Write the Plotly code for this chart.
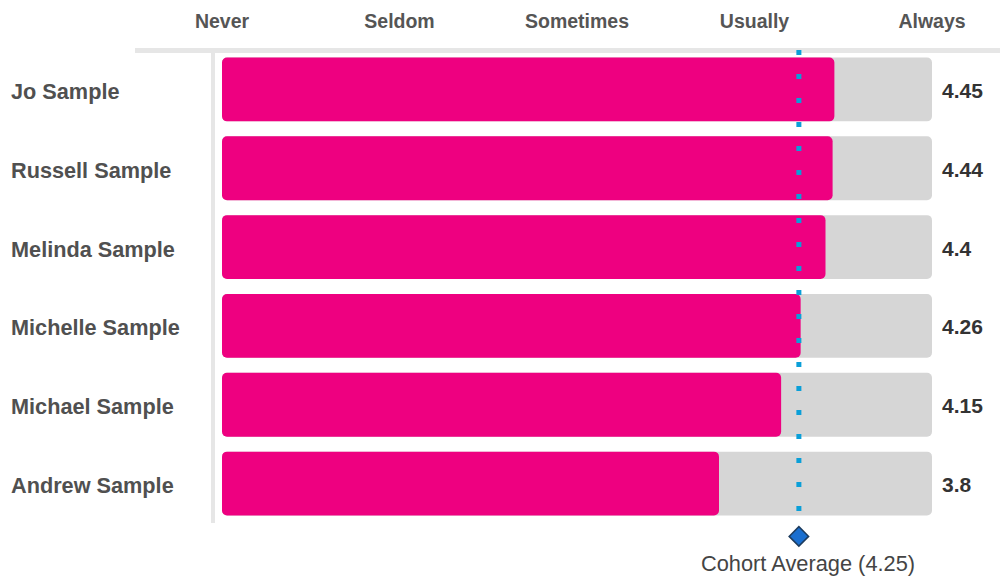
import plotly.graph_objects as go

names = ["Jo Sample", "Russell Sample", "Melinda Sample", "Michelle Sample", "Michael Sample", "Andrew Sample"]
scores = [4.45, 4.44, 4.4, 4.26, 4.15, 3.8]
scale_vals = [1, 2, 3, 4, 5]
scale_labels = ["Never", "Seldom", "Sometimes", "Usually", "Always"]
cohort_avg = 4.25

PINK = "#EE0080"
GRAY = "#D6D6D6"
BLUE_DOT = "#0A9FD8"
FONT = "Liberation Sans, Arial, sans-serif"

ys = list(range(len(names)))
smin, smax = scale_vals[0], scale_vals[-1]
n = len(names)
y_top = -0.5
y_last = n - 0.5
y_bottom = -0.5 + 529 / 78.83

fig = go.Figure()
fig.add_trace(go.Bar(
    y=ys, x=[smax - smin] * n, base=smin, orientation="h",
    marker=dict(color=GRAY, cornerradius=5, line=dict(width=0)),
    width=0.81, hoverinfo="skip", showlegend=False))
fig.add_trace(go.Bar(
    y=ys, x=[s - smin for s in scores], base=smin, orientation="h",
    marker=dict(color=PINK, cornerradius=5, line=dict(width=0)),
    width=0.81, hoverinfo="skip", showlegend=False))
fig.add_trace(go.Scatter(
    x=[cohort_avg], y=[y_last + 0.17], mode="markers", cliponaxis=False,
    marker=dict(symbol="diamond", size=15, color="#1A6FD0",
                line=dict(color="#1D3C5E", width=1.5)),
    hoverinfo="skip", showlegend=False))

annotations = []
for i, (nm, s) in enumerate(zip(names, scores)):
    annotations.append(dict(
        x=0, xref="paper", xshift=-213, y=i, yref="y", yshift=-2, text=nm,
        showarrow=False, xanchor="left", yanchor="middle",
        font=dict(family=FONT, size=21.7, color="#505050", weight="bold")))
    annotations.append(dict(
        x=smax, xref="x", xshift=8, y=i, yref="y", yshift=-1, text=f"{s:g}",
        showarrow=False, xanchor="left", yanchor="middle",
        font=dict(family=FONT, size=21, color="#333333", weight="bold")))
annotations.append(dict(
    x=cohort_avg, xref="x", xshift=9, y=y_last + 0.51, yref="y",
    text=f"Cohort Average ({cohort_avg:g})", showarrow=False,
    xanchor="center", yanchor="middle",
    font=dict(family=FONT, size=21.8, color="#444444")))

shapes = [
    dict(type="rect", xref="paper", yref="paper",
         x0=(135 - 222) / 710, x1=(1008 - 222) / 710,
         ysizemode="pixel", yanchor=1, y0=-3, y1=2,
         fillcolor="#E6E6E6", line=dict(width=0), layer="below"),
    dict(type="rect", xref="paper", yref="y",
         xsizemode="pixel", xanchor=0, x0=-11, x1=-7, y0=y_top, y1=y_last,
         fillcolor="#E6E6E6", line=dict(width=0), layer="below"),
    dict(type="line", xref="x", yref="y", x0=cohort_avg, x1=cohort_avg,
         y0=y_top, y1=y_last - 0.05, line=dict(color=BLUE_DOT, width=5, dash="5px,19px"),
         layer="above"),
]

fig.update_layout(
    width=1000, height=571,
    margin=dict(l=214, r=76, t=42, b=0),
    paper_bgcolor="white", plot_bgcolor="white",
    barmode="overlay",
    showlegend=False,
    annotations=annotations, shapes=shapes,
    xaxis=dict(range=[smin, smax], side="top", tickvals=scale_vals, ticktext=scale_labels,
               showgrid=False, zeroline=False, showline=False, ticks="",
               ticklabelstandoff=17,
               tickfont=dict(family=FONT, size=19.5, color="#555555", weight="bold"),
               fixedrange=True),
    yaxis=dict(range=[y_bottom, y_top], showticklabels=False, showgrid=False,
               zeroline=False, showline=False, ticks="", fixedrange=True),
)

fig.write_html("out.html")
